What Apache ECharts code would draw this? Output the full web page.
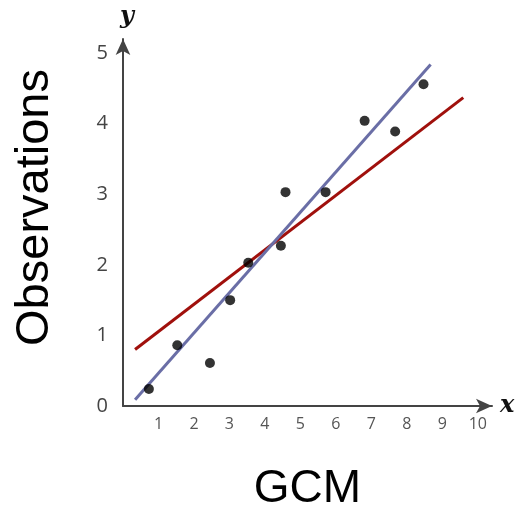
<!DOCTYPE html>
<html>
<head>
<meta charset="utf-8">
<script src="https://cdn.jsdelivr.net/npm/echarts@6/dist/echarts.min.js"></script>
<style>html,body{margin:0;padding:0;background:#fff}#c{width:519px;height:512px}</style>
</head>
<body>
<div id="c"></div>
<script>
// Data
var pointsX = [0.73, 1.53, 2.45, 3.02, 3.53, 4.45, 4.58, 5.71, 6.81, 7.67, 8.47];
var pointsY = [0.24, 0.86, 0.61, 1.50, 2.03, 2.27, 3.03, 3.03, 4.04, 3.89, 4.56];
var blueLineX = [0.34, 8.67];
var blueLineY = [0.09, 4.84];
var redLineX = [0.34, 9.59];
var redLineY = [0.80, 4.37];
var xTicks = [1, 2, 3, 4, 5, 6, 7, 8, 9, 10];
var yTicks = [0, 1, 2, 3, 4, 5];
var xTitle = 'GCM';
var yTitle = 'Observations';

function zip(a, b) { return a.map(function (v, i) { return [v, b[i]]; }); }

var chart = echarts.init(document.getElementById('c'));
var axisLineStyle = { color: '#444', width: 2 };
chart.setOption({
  animation: false,
  grid: { left: 123, right: 27, top: 39, bottom: 106, containLabel: false, outerBoundsMode: 'none' },
  xAxis: [{
    type: 'value', min: 0, max: 10.4, interval: 1,
    splitLine: { show: false },
    axisTick: { show: false },
    axisLine: { show: true, lineStyle: axisLineStyle, symbol: ['none', 'arrow'], symbolSize: [11, 16] },
    axisLabel: {
      margin: 10, color: '#555', fontSize: 16, fontFamily: 'Open Sans',
      showMinLabel: true, showMaxLabel: true,
      formatter: function (v) { return xTicks.indexOf(v) >= 0 ? String(v) : ''; }
    },
    name: xTitle, nameLocation: 'middle', nameGap: 60,
    nameTextStyle: { fontSize: 46, color: '#000', fontFamily: 'Liberation Sans' }
  }, {
    type: 'value', min: 0, max: 10.4, position: 'bottom', gridIndex: 0,
    axisLine: { show: false }, axisTick: { show: false }, axisLabel: { show: false }, splitLine: { show: false },
    name: 'x', nameLocation: 'end', nameGap: 8,
    nameTextStyle: { fontSize: 24, color: '#111', fontFamily: 'DejaVu Serif', fontStyle: 'italic', fontWeight: 'bold', verticalAlign: 'middle' }
  }],
  yAxis: [{
    type: 'value', min: 0, max: 5.2, interval: 1,
    splitLine: { show: false },
    axisTick: { show: false },
    axisLine: { show: true, lineStyle: axisLineStyle, symbol: ['none', 'arrow'], symbolSize: [11, 16] },
    axisLabel: {
      margin: 15, color: '#444', fontSize: 20, fontFamily: 'Open Sans',
      formatter: function (v) { return yTicks.indexOf(v) >= 0 ? String(v) : ''; }
    },
    name: yTitle, nameLocation: 'middle', nameGap: 64, nameRotate: 90,
    nameTextStyle: { fontSize: 47, color: '#000', fontFamily: 'Liberation Sans', padding: [0, 0, 0, 30] }
  }, {
    type: 'value', min: 0, max: 5.2, position: 'left', gridIndex: 0,
    axisLine: { show: false }, axisTick: { show: false }, axisLabel: { show: false }, splitLine: { show: false },
    name: 'y', nameLocation: 'end', nameGap: 10,
    nameTextStyle: { fontSize: 24, color: '#111', fontFamily: 'DejaVu Serif', fontStyle: 'italic', fontWeight: 'bold', padding: [0, 0, 0, 8] }
  }],
  series: [{
    type: 'line', data: zip(redLineX, redLineY), symbol: 'none',
    lineStyle: { color: '#a0100c', width: 3 }, z: 2
  }, {
    type: 'line', data: zip(blueLineX, blueLineY), symbol: 'none',
    lineStyle: { color: '#6a6ea6', width: 3 }, z: 3
  }, {
    type: 'scatter', data: zip(pointsX, pointsY), symbolSize: 10,
    itemStyle: { color: '#000' }, z: 4
  }]
});
</script>
</body>
</html>
